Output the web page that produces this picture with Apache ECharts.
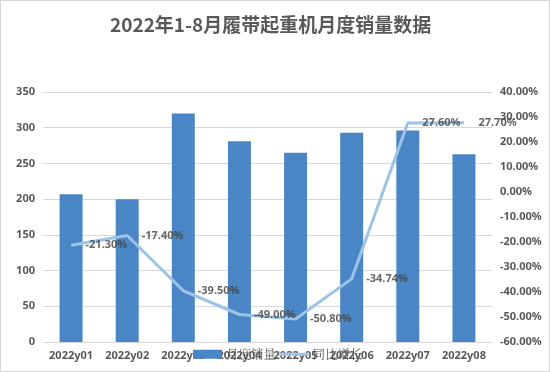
<!DOCTYPE html>
<html><head><meta charset="utf-8">
<script src="https://cdn.jsdelivr.net/npm/echarts@6/dist/echarts.min.js"></script>
<style>html,body{margin:0;padding:0;background:#fff}#c{width:548px;height:370px;border:1px solid #d9d9d9}</style>
</head><body><div id="c"></div>
<script>
const categories = ['2022y01','2022y02','2022y03','2022y04','2022y05','2022y06','2022y07','2022y08'];
const salesValues = [207, 200, 320, 281, 265, 293, 296, 263];
const growthValues = [-21.30, -17.40, -39.50, -49.00, -50.80, -34.74, 27.60, 27.70];
const leftTicks = {min: 0, max: 350, interval: 50};
const rightTicks = {min: -60, max: 40, interval: 10};

const chart = echarts.init(document.getElementById('c'));
const font = 'Noto Sans';
chart.setOption({
  animation: false,
  title: {text: '2022年1-8月履带起重机月度销量数据', left: 104, top: 9,
    textStyle: {fontSize: 19, fontWeight: 'bold', color: '#595959', fontFamily: 'Noto Sans CJK SC'}},
  grid: {left: 42, right: 57, top: 91, bottom: 29},
  legend: {left: 187, top: 342, itemWidth: 29, itemHeight: 9, itemGap: 2,
    textStyle: {fontSize: 12.5, color: '#595959', fontFamily: 'Noto Serif CJK SC, serif', padding: [0, 0, 0, -1]},
    data: [{name: '月度销量', icon: 'rect'},
           {name: '同比增长', itemStyle: {opacity: 0}, lineStyle: {color: '#9dc3e6', width: 3, opacity: 1}}]},
  xAxis: {type: 'category', data: categories,
    axisLine: {lineStyle: {color: '#d9d9d9'}}, axisTick: {show: false},
    axisLabel: {color: '#595959', fontSize: 11, fontWeight: 'bold', fontFamily: font, margin: 8, interval: 0}},
  yAxis: [
    {type: 'value', min: leftTicks.min, max: leftTicks.max, interval: leftTicks.interval,
      axisLine: {show: false}, axisTick: {show: false},
      splitLine: {lineStyle: {color: '#d9d9d9'}},
      axisLabel: {color: '#595959', fontSize: 11, fontWeight: 'bold', fontFamily: font, margin: 8}},
    {type: 'value', min: rightTicks.min, max: rightTicks.max, interval: rightTicks.interval,
      axisLine: {show: false}, axisTick: {show: false}, splitLine: {show: false},
      axisLabel: {color: '#595959', fontSize: 11, fontWeight: 'bold', fontFamily: font, margin: 8,
        formatter: v => v.toFixed(2) + '%'}}
  ],
  series: [
    {name: '月度销量', type: 'bar', data: salesValues, barWidth: 23,
      itemStyle: {color: '#4a86c5'}},
    {name: '同比增长', type: 'line', yAxisIndex: 1, data: growthValues, symbol: 'none',
      lineStyle: {color: '#9dc3e6', width: 3}, itemStyle: {color: '#9dc3e6'}},
    {name: 'growthLabels', type: 'scatter', yAxisIndex: 1, data: growthValues, symbolSize: 1,
      itemStyle: {color: 'rgba(0,0,0,0)'}, z: 5,
      label: {show: true, position: 'right', distance: 14, color: '#404040', fontSize: 11,
        fontWeight: 'bold', fontFamily: font, formatter: p => p.value.toFixed(2) + '%'}}
  ]
});
</script></body></html>
